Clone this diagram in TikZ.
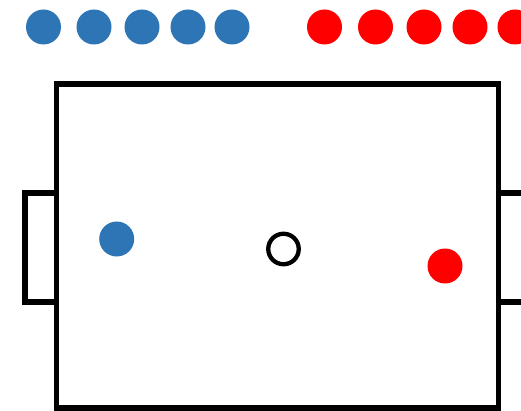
\documentclass[tikz,border=0pt]{standalone}
\definecolor{teamblue}{HTML}{2E75B6}
\definecolor{teamred}{HTML}{FF0000}
\begin{document}
\begin{tikzpicture}[x=1pt,y=-1pt,
  bluedot/.style={circle,fill=teamblue,inner sep=0pt,minimum size=35pt},
  reddot/.style={circle,fill=teamred,inner sep=0pt,minimum size=35pt},
  ballstyle/.style={circle,draw=black,line width=4.3pt,fill=white,inner sep=0pt,minimum size=30.5pt},
  lines/.style={draw=black,line width=5.8pt}]
\useasboundingbox (0,0) rectangle (521,411);
\begin{scope}
\clip (0,0) rectangle (521,411);
% goals
\draw[lines] (56.5,193) -- (25,193) -- (25,302) -- (56.5,302);
\draw[lines] (498.5,193) -- (530,193) -- (530,302) -- (498.5,302);
% field
\draw[lines,line join=miter] (56.5,84) rectangle (498.5,408);
% bench dots
\foreach \x [count=\i] in {43.5,94,142,188,232}
  \node[bluedot] (b\i) at (\x,27) {};
\foreach \x [count=\i] in {324.5,375.5,424,470,515}
  \node[reddot] (r\i) at (\x,27) {};
% players and ball
\node[bluedot] (blueplayer) at (116.7,239) {};
\node[ballstyle] (ball) at (283.5,249) {};
\node[reddot] (redplayer) at (445,266) {};
\end{scope}
\end{tikzpicture}
\end{document}
